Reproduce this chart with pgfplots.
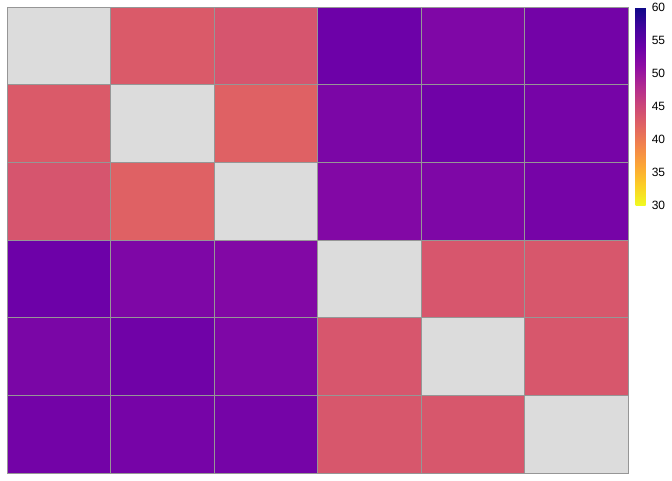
\documentclass[border=0pt]{standalone}
\usepackage{fontspec}
\setmainfont{Liberation Sans}
\usepackage{pgfplots}
\pgfplotsset{compat=1.18}
\definecolor{diaggray}{RGB}{220,220,220}
\definecolor{cellline}{RGB}{150,150,150}

% heat values, row index y (0 = top), column index x; diagonal is covered later
\pgfplotstableread{
x y c
0 0 45
1 0 43.0
2 0 43.6
3 0 53.8
4 0 52.3
5 0 53.3
0 1 43.0
1 1 45
2 1 42.3
3 1 52.6
4 1 53.5
5 1 53.0
0 2 43.6
1 2 42.3
2 2 45
3 2 52.1
4 2 52.4
5 2 53.0
0 3 53.8
1 3 52.4
2 3 52.1
3 3 45
4 3 43.5
5 3 43.4
0 4 52.7
1 4 53.5
2 4 52.4
3 4 43.5
4 4 45
5 4 43.4
0 5 53.3
1 5 53.0
2 5 53.1
3 5 43.4
4 5 43.4
5 5 45
}\heat

\begin{document}
\begin{tikzpicture}
  \begin{axis}[
    at={(0,0)}, anchor=south west,
    scale only axis,
    width=465.75pt, height=349.5pt,
    xmin=-0.5, xmax=5.5, ymin=-0.5, ymax=5.5,
    y dir=reverse,
    enlargelimits=false,
    axis on top,
    xtick={-0.5,0.5,...,5.5}, ytick={-0.5,0.5,...,5.5},
    xticklabels={}, yticklabels={},
    major tick length=0pt,
    grid=major,
    grid style={draw=cellline, line width=0.7pt},
    axis line style={draw=cellline, line width=0.7pt},
    colormap={plasmar}{rgb255=(240,249,33) rgb255=(252,206,37) rgb255=(252,166,54)
      rgb255=(242,132,75) rgb255=(225,100,98) rgb255=(204,71,120) rgb255=(177,42,144)
      rgb255=(143,13,164) rgb255=(106,0,168) rgb255=(65,4,157) rgb255=(13,8,135)},
    point meta min=30, point meta max=60,
    colorbar,
    colorbar style={
      at={(parent axis.north east)}, anchor=north west, xshift=-2.75pt,
      width=7.5pt, height=148.5pt,
      ytick={30,35,...,60},
      major tick length=0pt,
      axis line style={draw=none},
      yticklabel style={font=\fontsize{9}{10}\selectfont,
        /pgf/number format/assume math mode=true, xshift=1pt},
    },
  ]
    \addplot[matrix plot*, mesh/cols=6, point meta=explicit]
      table[x=x, y=y, meta=c] {\heat};
    % diagonal cells without value
    \addplot[draw=none, fill=diaggray] coordinates {(-0.5,-0.5) (0.5,-0.5) (0.5,0.5) (-0.5,0.5)} -- cycle;
    \addplot[draw=none, fill=diaggray] coordinates {(0.5,0.5) (1.5,0.5) (1.5,1.5) (0.5,1.5)} -- cycle;
    \addplot[draw=none, fill=diaggray] coordinates {(1.5,1.5) (2.5,1.5) (2.5,2.5) (1.5,2.5)} -- cycle;
    \addplot[draw=none, fill=diaggray] coordinates {(2.5,2.5) (3.5,2.5) (3.5,3.5) (2.5,3.5)} -- cycle;
    \addplot[draw=none, fill=diaggray] coordinates {(3.5,3.5) (4.5,3.5) (4.5,4.5) (3.5,4.5)} -- cycle;
    \addplot[draw=none, fill=diaggray] coordinates {(4.5,4.5) (5.5,4.5) (5.5,5.5) (4.5,5.5)} -- cycle;
  \end{axis}
  \pgfresetboundingbox
  \path[use as bounding box] (-5.25pt,-5.25pt) rectangle (498.75pt,354.75pt);
\end{tikzpicture}
\end{document}
